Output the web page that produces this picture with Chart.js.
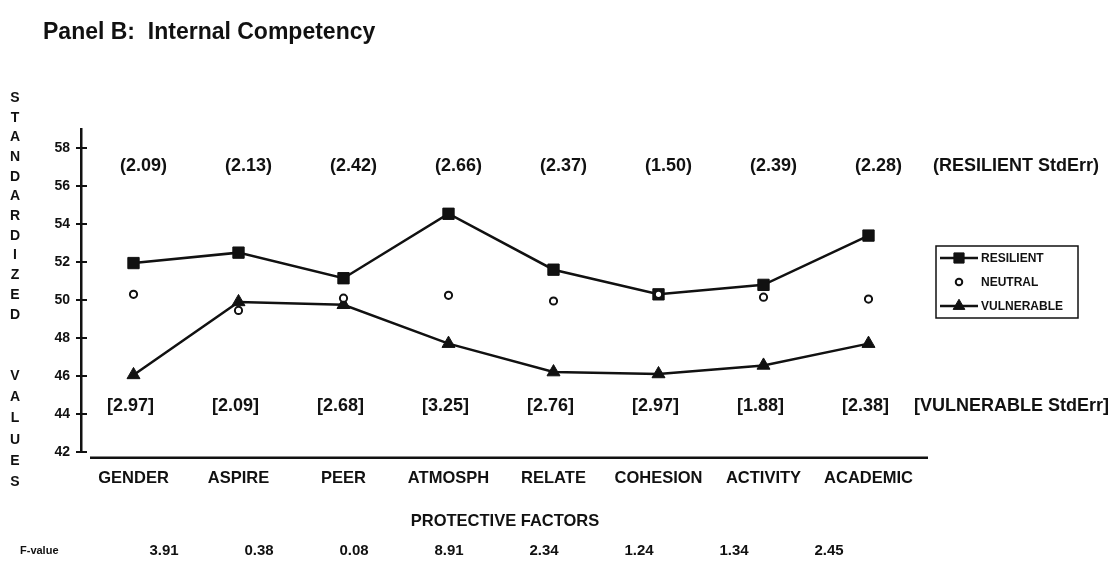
<!DOCTYPE html>
<html>
<head>
<meta charset="utf-8">
<title>Panel B: Internal Competency</title>
<script src="https://cdn.jsdelivr.net/npm/chart.js@4.4.1/dist/chart.umd.min.js"></script>
<style>
  html, body { margin: 0; padding: 0; background: #ffffff; }
  #wrap { width: 1112px; height: 567px; position: relative; }
  canvas { display: block; }
</style>
</head>
<body>
<div id="wrap"><canvas id="chart" width="1112" height="567"></canvas></div>
<script>
// Protective factors on the x axis
const categories = ['GENDER', 'ASPIRE', 'PEER', 'ATMOSPH', 'RELATE', 'COHESION', 'ACTIVITY', 'ACADEMIC'];

// Standardized mean values per group
const resilient  = [51.95, 52.5, 51.15, 54.55, 51.6, 50.3, 50.8, 53.4];
const neutral    = [50.3, 49.45, 50.1, 50.25, 49.95, 50.3, 50.15, 50.05];
const vulnerable = [46.05, 49.9, 49.75, 47.7, 46.2, 46.1, 46.55, 47.7];

// Standard errors and F statistics printed with the chart
const resilientStdErr  = ['2.09', '2.13', '2.42', '2.66', '2.37', '1.50', '2.39', '2.28'];
const vulnerableStdErr = ['2.97', '2.09', '2.68', '3.25', '2.76', '2.97', '1.88', '2.38'];
const fValues          = ['3.91', '0.38', '0.08', '8.91', '2.34', '1.24', '1.34', '2.45'];

// Y axis range and ticks
const yMin = 42, yMax = 59, yStep = 2;

const FONT = '"Liberation Sans", Arial, Helvetica, sans-serif';
const INK = '#111111';

const textLayer = {
  id: 'textLayer',
  afterDraw(chart) {
    const ctx = chart.ctx;
    const x = chart.scales.x, y = chart.scales.y;
    const area = chart.chartArea;
    ctx.save();
    ctx.fillStyle = INK;
    ctx.strokeStyle = INK;

    // title
    ctx.font = 'bold 23px ' + FONT;
    ctx.textAlign = 'left';
    ctx.textBaseline = 'middle';
    ctx.fillText('Panel B:  Internal Competency', 43, 33);

    // vertical stacked y-axis title
    ctx.font = 'bold 14px ' + FONT;
    ctx.textAlign = 'center';
    'STANDARDIZED'.split('').forEach((c, i) => ctx.fillText(c, 15, 98 + i * 19.7));
    'VALUES'.split('').forEach((c, i) => ctx.fillText(c, 15, 376 + i * 21.3));

    // inner halves of the crossing y ticks
    ctx.lineWidth = 2;
    y.ticks.forEach(t => {
      const py = Math.round(y.getPixelForValue(t.value));
      ctx.beginPath();
      ctx.moveTo(area.left, py);
      ctx.lineTo(area.left + 6, py);
      ctx.stroke();
    });

    // horizontal base line under the plot
    ctx.lineWidth = 2.5;
    ctx.beginPath();
    ctx.moveTo(area.left + 9, area.bottom + 6);
    ctx.lineTo(area.right + 7, area.bottom + 6);
    ctx.stroke();

    // standard error rows
    ctx.font = 'bold 18px ' + FONT;
    ctx.textAlign = 'center';
    const yRes = y.getPixelForValue(57.05);
    const yVul = y.getPixelForValue(44.4);
    resilientStdErr.forEach((s, i) => ctx.fillText('(' + s + ')', x.getPixelForValue(i) + 10, yRes));
    vulnerableStdErr.forEach((s, i) => ctx.fillText('[' + s + ']', x.getPixelForValue(i) - 3, yVul));
    ctx.textAlign = 'left';
    ctx.fillText('(RESILIENT StdErr)', 933, yRes);
    ctx.fillText('[VULNERABLE StdErr]', 914, yVul);

    // x-axis title
    ctx.font = 'bold 16.5px ' + FONT;
    ctx.textAlign = 'center';
    ctx.fillText('PROTECTIVE FACTORS', (area.left + area.right) / 2 + 4, 521);

    // F statistics row
    ctx.font = 'bold 11px ' + FONT;
    ctx.textAlign = 'left';
    ctx.fillText('F-value', 20, 551);
    ctx.font = 'bold 15px ' + FONT;
    ctx.textAlign = 'center';
    fValues.forEach((v, i) => ctx.fillText(v, 164 + i * 95, 551));

    // legend box
    const lx = 936, ly = 246, lw = 142, lh = 72;
    ctx.lineWidth = 1.5;
    ctx.strokeRect(lx, ly, lw, lh);
    const rows = [258, 282, 306];
    chart.data.datasets.forEach((ds, k) => {
      const ry = rows[k];
      if (ds.showLine !== false) {
        ctx.lineWidth = 2.5;
        ctx.beginPath();
        ctx.moveTo(lx + 4, ry);
        ctx.lineTo(lx + 42, ry);
        ctx.stroke();
      }
      ctx.fillStyle = ds.pointBackgroundColor;
      ctx.strokeStyle = ds.pointBorderColor;
      ctx.lineWidth = ds.pointBorderWidth;
      Chart.helpers.drawPoint(ctx, {
        pointStyle: ds.pointStyle,
        radius: ds.pointRadius * 0.9,
        borderWidth: ds.pointBorderWidth
      }, lx + 23, ry);
      ctx.fillStyle = INK;
      ctx.strokeStyle = INK;
      ctx.font = 'bold 12px ' + FONT;
      ctx.textAlign = 'left';
      ctx.fillText(ds.label, lx + 45, ry + 1);
    });
    ctx.restore();
  }
};

const ctxEl = document.getElementById('chart');

new Chart(ctxEl, {
  type: 'line',
  data: {
    labels: categories,
    datasets: [
      {
        label: 'RESILIENT',
        data: resilient,
        borderColor: INK,
        backgroundColor: INK,
        borderWidth: 2.5,
        pointStyle: 'rect',
        pointRadius: 8,
        pointBorderWidth: 1,
        pointBackgroundColor: INK,
        pointBorderColor: INK,
        tension: 0,
        order: 1
      },
      {
        label: 'NEUTRAL',
        data: neutral,
        showLine: false,
        borderColor: INK,
        backgroundColor: '#ffffff',
        pointStyle: 'circle',
        pointRadius: 3.6,
        pointBorderWidth: 2,
        pointBackgroundColor: '#ffffff',
        pointBorderColor: INK,
        order: 0
      },
      {
        label: 'VULNERABLE',
        data: vulnerable,
        borderColor: INK,
        backgroundColor: INK,
        borderWidth: 2.5,
        pointStyle: 'triangle',
        pointRadius: 7.5,
        pointBorderWidth: 1,
        pointBackgroundColor: INK,
        pointBorderColor: INK,
        tension: 0,
        order: 2
      }
    ]
  },
  options: {
    responsive: false,
    devicePixelRatio: 1,
    animation: false,
    events: [],
    layout: { padding: { top: 129.4, right: 191, left: 0, bottom: 0 } },
    plugins: {
      legend: { display: false },
      title: { display: false },
      tooltip: { enabled: false }
    },
    scales: {
      x: {
        type: 'category',
        offset: true,
        grid: { display: false, drawTicks: false },
        border: { display: false },
        ticks: {
          color: INK,
          font: { family: FONT, size: 16.5, weight: 'bold' },
          padding: 17,
          maxRotation: 0,
          autoSkip: false
        },
        afterFit(scale) { scale.height = 567 - 451.7; }
      },
      y: {
        min: yMin,
        max: yMax,
        grid: { drawOnChartArea: false, drawTicks: true, tickLength: 5, color: INK, lineWidth: 2 },
        border: { display: true, color: INK, width: 2.5 },
        ticks: {
          stepSize: yStep,
          includeBounds: false,
          color: INK,
          padding: 6,
          font: { family: FONT, size: 14, weight: 'bold' }
        },
        afterFit(scale) { scale.width = 81; }
      }
    }
  },
  plugins: [textLayer]
});
</script>
</body>
</html>
